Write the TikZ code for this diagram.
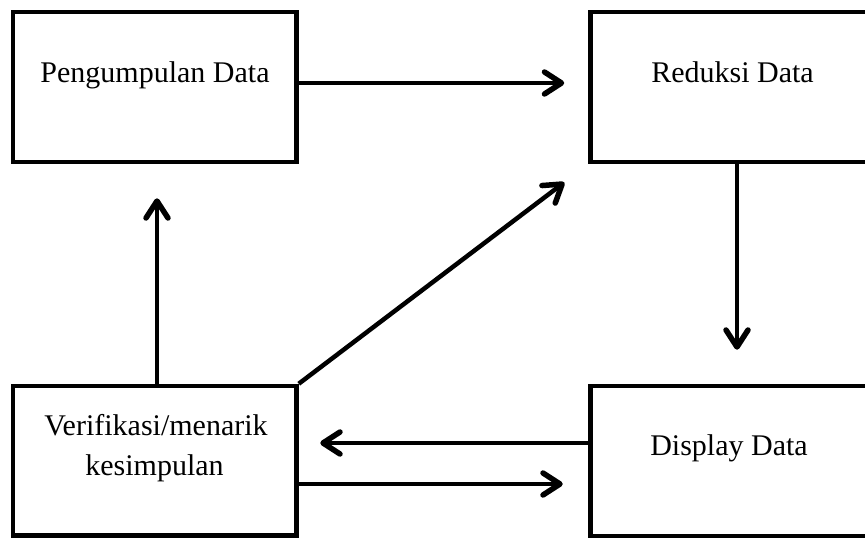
\documentclass[tikz,border=0pt]{standalone}
\usepackage{fontspec}
\setmainfont{Liberation Serif}
\usetikzlibrary{arrows.meta}
\begin{document}
\begin{tikzpicture}[x=1pt,y=-1pt,
  box/.style={draw=black, line width=4.5pt, rectangle, inner sep=0pt},
  lbl/.style={anchor=base, inner sep=0pt, font=\fontsize{30}{40}\selectfont},
  conn/.style={line width=4.5pt, -{Straight Barb[length=17pt,width=22pt,round,line width=5.5pt]}}]
\useasboundingbox (0,0) rectangle (865,538);
\clip (0,0) rectangle (865,538);
\node[box, minimum width=283.5pt, minimum height=150pt] (pd) at (154.75,87) {};
\node[box, minimum width=279.5pt, minimum height=150pt] (rd) at (730.25,87) {};
\node[box, minimum width=283.5pt, minimum height=149.5pt] (vk) at (154.75,460.75) {};
\node[box, minimum width=279.5pt, minimum height=150pt] (dd) at (730.25,461) {};
\node[lbl] (tpd) at (155,82) {Pengumpulan Data};
\node[lbl] (trd) at (732.5,82) {Reduksi Data};
\node[lbl] (tvk1) at (156,435) {Verifikasi/menarik};
\node[lbl] (tvk2) at (154.5,475) {kesimpulan};
\node[lbl] (tdd) at (729,455) {Display Data};
\draw[conn, shorten >=24pt] ([yshift=4pt]pd.east) -- ([yshift=4pt]pd.east -| rd.west);
\draw[conn, shorten >=34pt] ([xshift=6.75pt]rd.south) -- ([xshift=6.75pt]dd.north);
\draw[conn, shorten >=34pt] ([xshift=2.25pt]vk.north) -- ([xshift=2.25pt]pd.south);
\draw[conn, shorten >=30pt] (vk.north east) -- (rd.south west);
\draw[conn, shorten >=21.5pt] ([yshift=18pt]dd.west) -- ([yshift=18pt]dd.west -| vk.east);
\draw[conn, shorten >=25.5pt] ([yshift=-23.25pt]vk.east) -- ([yshift=-23.25pt]vk.east -| dd.west);
\end{tikzpicture}
\end{document}
